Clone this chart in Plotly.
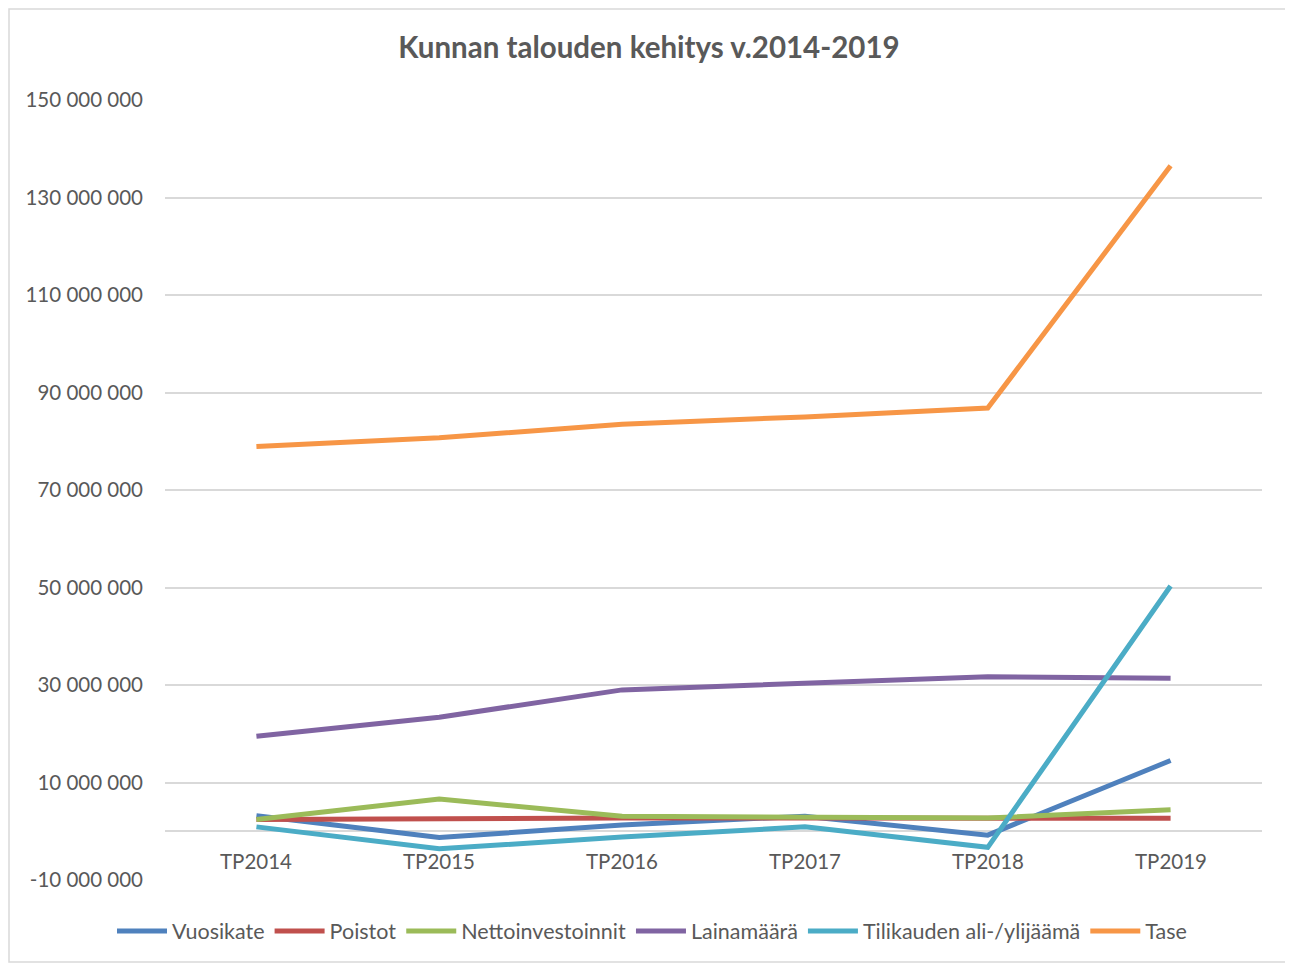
import plotly.graph_objects as go

categories = ["TP2014", "TP2015", "TP2016", "TP2017", "TP2018", "TP2019"]

vuosikate = [3.2e6, -1.3e6, 1.3e6, 3.1e6, -0.8e6, 14.5e6]
poistot = [2.4e6, 2.6e6, 2.7e6, 2.7e6, 2.7e6, 2.65e6]
nettoinvestoinnit = [2.4e6, 6.6e6, 3.1e6, 3.0e6, 2.7e6, 4.4e6]
lainamaara = [19.5e6, 23.4e6, 29.0e6, 30.4e6, 31.7e6, 31.4e6]
tilikauden = [0.9e6, -3.6e6, -1.2e6, 0.9e6, -3.3e6, 50.3e6]
tase = [78.9e6, 80.7e6, 83.5e6, 85.0e6, 86.8e6, 136.5e6]

series = [
    ("Vuosikate", vuosikate, "#4F81BD"),
    ("Poistot", poistot, "#C0504D"),
    ("Nettoinvestoinnit", nettoinvestoinnit, "#9BBB59"),
    ("Lainamäärä", lainamaara, "#8064A2"),
    ("Tilikauden ali-/ylijäämä", tilikauden, "#4BACC6"),
    ("Tase", tase, "#F79646"),
]

y_ticks = [-10e6, 10e6, 30e6, 50e6, 70e6, 90e6, 110e6, 130e6, 150e6]
y_ticktext = ["-10 000 000", "10 000 000", "30 000 000", "50 000 000", "70 000 000",
              "90 000 000", "110 000 000", "130 000 000", "150 000 000"]

FONT = "Lato"
GRAY = "#595959"

# page offset (body margin) of 8px compensated in the margins
L, T, PW, PH = 157, 92, 1097, 780
W, H = 1293, 965

fig = go.Figure()
xs = list(range(len(categories)))
for name, vals, color in series:
    fig.add_trace(go.Scatter(
        x=xs, y=vals, name=name, mode="lines",
        line=dict(color=color, width=5),
    ))

annotations = []
for i, c in enumerate(categories):
    annotations.append(dict(
        x=i, y=0, xref="x", yref="y", text=c, showarrow=False,
        yanchor="top", yshift=-16, font=dict(family=FONT, size=20.5, color=GRAY),
    ))

fig.update_layout(
    width=W, height=H,
    paper_bgcolor="white", plot_bgcolor="white",
    margin=dict(l=L, r=W - L - PW, t=T, b=H - T - PH, autoexpand=False),
    title=dict(text="<b>Kunnan talouden kehitys v.2014-2019</b>", x=(649 - 8) / W, xanchor="center",
               y=1 - 40 / H, yanchor="middle",
               font=dict(family=FONT, size=29.5, color=GRAY)),
    xaxis=dict(range=[-0.5, 5.5], showgrid=False, showticklabels=False, zeroline=False,
               showline=False, ticks=""),
    yaxis=dict(range=[-10e6, 150e6], tickvals=y_ticks, ticktext=y_ticktext,
               showgrid=True, gridcolor="#D9D9D9", gridwidth=1.5,
               zeroline=True, zerolinecolor="#D9D9D9", zerolinewidth=1.5,
               showline=False, ticks="", ticklabelstandoff=21,
               tickfont=dict(family=FONT, size=20.5, color=GRAY)),
    legend=dict(orientation="h", x=(652 - 8 - L) / PW, xanchor="center", y=-(923 - T - PH) / PH,
                yanchor="middle",
                font=dict(family=FONT, size=21.5, color=GRAY), itemwidth=50,
                tracegroupgap=0),
    annotations=annotations,
    shapes=[dict(type="rect", xref="paper", yref="paper",
                 x0=(1 - L) / PW, x1=1 + (1282 - L - PW) / PW,
                 y0=-(954 - T - PH) / PH, y1=1 + (T - 1) / PH,
                 line=dict(color="#D9D9D9", width=1.5), fillcolor="rgba(0,0,0,0)")],
    showlegend=True,
)

fig.write_html("out.html")
